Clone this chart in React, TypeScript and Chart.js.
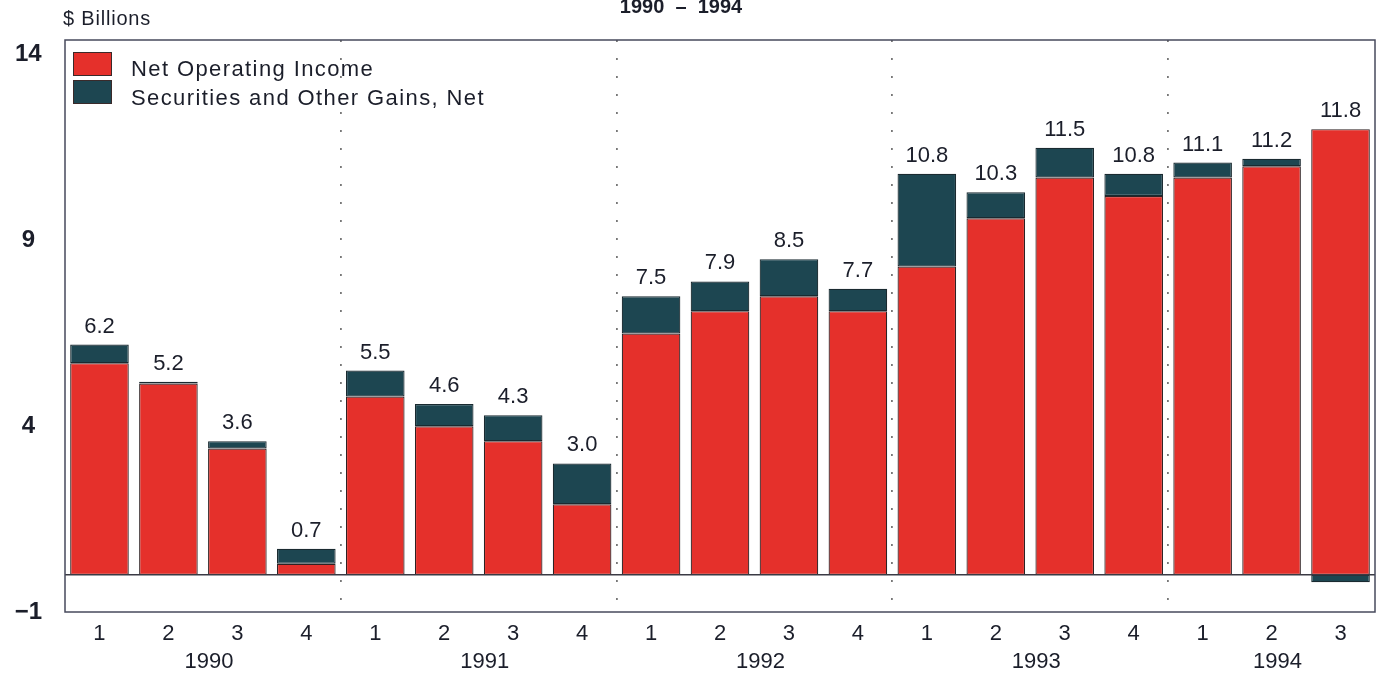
import React, { useEffect, useRef } from "react";
import { Chart, registerables } from "chart.js";

Chart.register(...registerables);

const quarters = ["1", "2", "3", "4", "1", "2", "3", "4", "1", "2", "3", "4", "1", "2", "3", "4", "1", "2", "3"];
const years = ["1990", "1991", "1992", "1993", "1994"];
const netOperatingIncome = [5.7, 5.15, 3.4, 0.3, 4.8, 4.0, 3.6, 1.9, 6.5, 7.1, 7.5, 7.1, 8.3, 9.6, 10.7, 10.2, 10.7, 11.0, 12.0];
const securitiesGains = [0.5, 0.05, 0.2, 0.4, 0.7, 0.6, 0.7, 1.1, 1.0, 0.8, 1.0, 0.6, 2.5, 0.7, 0.8, 0.6, 0.4, 0.2, -0.2];
const totalLabels = ["6.2", "5.2", "3.6", "0.7", "5.5", "4.6", "4.3", "3.0", "7.5", "7.9", "8.5", "7.7", "10.8", "10.3", "11.5", "10.8", "11.1", "11.2", "11.8"];
const yTicks = [-1, 4, 9, 14];
const seriesNames = ["Net Operating Income", "Securities and Other Gains, Net"];
const unitLabel = "$ Billions";
const titleText = "1990  \u2013  1994";

const RED = "#e5302b";
const TEAL = "#1d4651";
const FONT = "'Liberation Sans', Arial, sans-serif";
const TEXT = "#1b1e2a";

export default function App() {
  const ref = useRef<HTMLCanvasElement | null>(null);

  useEffect(() => {
    const canvas = ref.current!;
    const overlay = {
      id: "overlay",
      afterDatasetsDraw(chart: any) {
        const { ctx, chartArea, scales } = chart;
        const x = scales.x;
        const y = scales.y;
        ctx.save();
        // zero line
        const y0 = y.getPixelForValue(0);
        ctx.strokeStyle = "#3a3a44";
        ctx.lineWidth = 1.5;
        ctx.beginPath();
        ctx.moveTo(chartArea.left, y0);
        ctx.lineTo(chartArea.right, y0);
        ctx.stroke();
        // frame
        ctx.strokeStyle = "#474a5c";
        ctx.lineWidth = 1.5;
        ctx.strokeRect(chartArea.left, chartArea.top, chartArea.right - chartArea.left, chartArea.bottom - chartArea.top);
        // value labels
        ctx.fillStyle = TEXT;
        ctx.font = `22px ${FONT}`;
        ctx.textAlign = "center";
        ctx.textBaseline = "alphabetic";
        totalLabels.forEach((lab, i) => {
          const top = Math.max(netOperatingIncome[i], 0) + Math.max(securitiesGains[i], 0);
          const px = x.getPixelForValue(i);
          const py = y.getPixelForValue(top);
          ctx.fillText(lab, px, py - 12);
        });
        // year labels
        ctx.font = `22px ${FONT}`;
        ctx.textBaseline = "alphabetic";
        years.forEach((yr, k) => {
          const a = 4 * k;
          const b = Math.min(4 * k + 3, quarters.length - 1);
          const px = (x.getPixelForValue(a) + x.getPixelForValue(b)) / 2 + 6;
          ctx.fillText(yr, px, 668);
        });
        // legend
        const sw = [RED, TEAL];
        ctx.textAlign = "left";
        ctx.textBaseline = "alphabetic";
        ctx.font = `22px ${FONT}`;
        (ctx as any).letterSpacing = "1.4px";
        seriesNames.forEach((n, i) => {
          const ly = 52 + i * 28;
          ctx.fillStyle = sw[i];
          ctx.fillRect(73, ly, 39, 24);
          ctx.strokeStyle = "#3a2a2a";
          ctx.lineWidth = 1;
          ctx.strokeRect(73.5, ly + 0.5, 38, 23);
          ctx.fillStyle = TEXT;
          ctx.fillText(n, 131, 76 + i * 29);
        });
        // unit label & title
        ctx.font = `20px ${FONT}`;
        (ctx as any).letterSpacing = "0.8px";
        ctx.fillText(unitLabel, 63, 25);
        (ctx as any).letterSpacing = "0px";
        ctx.font = `bold 20px ${FONT}`;
        ctx.textAlign = "center";
        ctx.fillText(titleText, 681, 13);
        ctx.restore();
      },
    };

    const chart = new Chart(canvas, {
      type: "bar",
      data: {
        labels: quarters,
        datasets: [
          {
            label: seriesNames[0],
            data: netOperatingIncome,
            backgroundColor: RED,
            borderColor: "#2e2224",
            borderWidth: 1.2,
            borderSkipped: false,
            barPercentage: 0.85,
            categoryPercentage: 1,
          },
          {
            label: seriesNames[1],
            data: securitiesGains,
            backgroundColor: TEAL,
            borderColor: "#1a2a30",
            borderWidth: 1.2,
            borderSkipped: false,
            barPercentage: 0.85,
            categoryPercentage: 1,
          },
        ],
      },
      options: {
        responsive: false,
        animation: false,
        layout: { padding: { top: 40, right: 5, left: 0, bottom: 0 } },
        plugins: { legend: { display: false }, tooltip: { enabled: false }, title: { display: false } },
        scales: {
          x: {
            stacked: true,
            offset: true,
            border: { display: false },
            grid: {
              offset: true,
              drawTicks: false,
              color: (c: any) => (c.index > 0 && c.index % 4 === 0 ? "#777" : "rgba(0,0,0,0)"),
              lineWidth: 1.8,
            },
            ticks: {
              color: TEXT,
              font: { family: FONT, size: 22 },
              padding: 9,
              maxRotation: 0,
              autoSkip: false,
            },
            afterFit: (s: any) => {
              s.height = 63;
            },
          },
          y: {
            stacked: true,
            min: -1,
            max: 14.4,
            border: { display: false },
            grid: { display: false },
            afterBuildTicks: (s: any) => {
              s.ticks = yTicks.map((v) => ({ value: v }));
            },
            ticks: {
              color: TEXT,
              font: { family: FONT, size: 24, weight: "bold" },
              crossAlign: "center",
              padding: 15,
              callback: (v: any) => (Number(v) < 0 ? "\u2212" + Math.abs(Number(v)) : String(v)),
            },
            afterFit: (s: any) => {
              s.width = 65;
            },
          },
        },
      },
      plugins: [overlay],
    } as any);

    (chart.options.scales as any).x.border = { display: false, dash: [2, 16] };
    chart.update();

    return () => chart.destroy();
  }, []);

  return (
    <div style={{ position: "fixed", left: 0, top: 0, width: 1380, height: 675, background: "#fff" }}>
      <canvas ref={ref} width={1380} height={675} />
    </div>
  );
}
